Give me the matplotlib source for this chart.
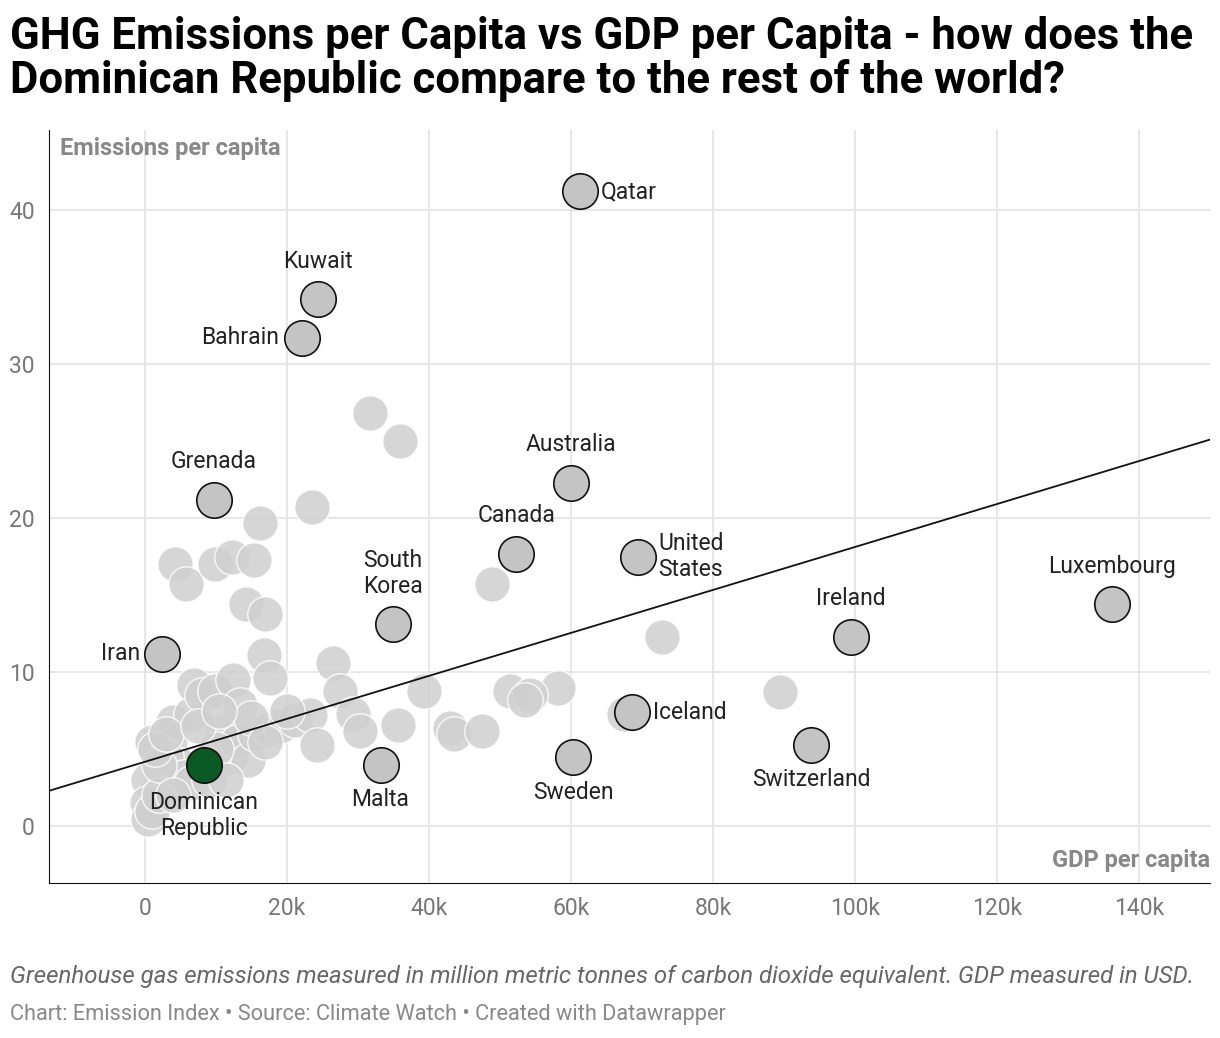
import matplotlib
matplotlib.use("Agg")
import matplotlib.pyplot as plt
import numpy as np

plt.rcParams['font.family'] = ['Roboto', 'DejaVu Sans']

# labelled countries: name, gdp (k USD), emissions per capita, label side
names = ["Qatar", "Kuwait", "Bahrain", "Grenada", "Australia", "Canada", "United\nStates",
         "South\nKorea", "Iran", "Luxembourg", "Ireland", "Iceland", "Switzerland",
         "Sweden", "Malta"]
gdp_lab = [61.3, 24.4, 22.1, 9.7, 60.0, 52.3, 69.4, 34.9, 2.5, 136.2, 99.4, 68.6, 93.8, 60.3, 33.2]
emi_lab = [41.2, 34.2, 31.7, 21.2, 22.3, 17.7, 17.5, 13.1, 11.2, 14.4, 12.3, 7.4, 5.3, 4.5, 4.0]
sides = ["right", "top", "left", "top", "top", "top", "right", "top", "left", "top", "top",
         "right", "bottom", "bottom", "bottom"]

dr_gdp, dr_emi = 8.3, 4.0

# other countries (unlabelled)
gdp_other = [31.7, 35.9, 23.5, 16.3, 4.2, 5.8, 9.9, 12.3, 15.4, 14.2, 16.9, 16.8, 17.6, 48.9,
             72.8, 89.4, 58.2, 51.4, 54.2, 53.5, 39.3, 26.5, 27.5, 29.3, 30.3, 35.6, 43.0, 43.5,
             47.5, 1.0, 0.5, 0.3, 0.4, 1.0, 2.0, 3.5, 5.0, 4.0, 6.5, 7.0, 8.0, 9.9, 11.0, 12.4,
             13.4, 12.0, 13.0, 14.5, 15.5, 17.5, 19.0, 21.1, 23.2, 24.2, 3.0, 5.5, 6.5, 2.0, 10.0,
             9.0, 11.5, 1.5, 3.0, 15.0, 17.0, 20.0, 7.5, 10.5, 4.0, 67.5]
emi_other = [26.8, 25.0, 20.7, 19.7, 17.0, 15.7, 17.0, 17.5, 17.3, 14.4, 13.8, 11.1, 9.6, 15.7,
             12.3, 8.7, 9.0, 8.8, 8.5, 8.2, 8.8, 10.6, 8.8, 7.3, 6.2, 6.6, 6.4, 6.0,
             6.2, 5.5, 3.0, 1.5, 0.5, 1.0, 2.0, 5.5, 4.0, 6.8, 7.3, 9.2, 8.5, 8.8, 6.2, 9.5,
             7.9, 4.5, 5.5, 4.3, 6.0, 6.3, 6.5, 6.9, 7.2, 5.3, 4.5, 3.2, 2.8, 4.0, 5.0,
             3.0, 3.0, 5.0, 6.0, 7.0, 5.5, 7.5, 6.5, 7.5, 2.0, 7.3]

trend_x = [-13.5, 150]
trend_y = [2.3, 25.1]

fig = plt.figure(figsize=(12.2, 10.38), dpi=100)
ax = fig.add_axes([0.040, 0.149, 0.952, 0.726])

ax.scatter(gdp_other, emi_other, s=650, color="#cfcfcf", edgecolor="white", linewidth=1, alpha=0.85, zorder=2)
ax.plot(trend_x, trend_y, color="#111111", lw=1.3, zorder=3)
ax.scatter(gdp_lab, emi_lab, s=650, color="#c4c4c4", edgecolor="#111111", linewidth=1.2, zorder=4)
ax.scatter([dr_gdp], [dr_emi], s=650, color="#0b5a26", edgecolor="#111111", linewidth=1.2, zorder=5)

offs = {"right": (15, 0, "left", "center"), "left": (-16, 0, "right", "center"),
        "top": (0, 19, "center", "bottom"), "bottom": (0, -17, "center", "top")}
for n, x, y, s in zip(names, gdp_lab, emi_lab, sides):
    dx, dy, ha, va = offs[s]
    ax.annotate(n, (x, y), xytext=(dx, dy), textcoords="offset points", ha=ha, va=va,
                fontsize=16.5, color="#222222", linespacing=1.15, zorder=6)
ax.annotate("Dominican\nRepublic", (dr_gdp, dr_emi), xytext=(0, -19), textcoords="offset points",
            ha="center", va="top", fontsize=16.5, color="#222222", linespacing=1.15, zorder=6)

ax.set_xlim(-13.5, 150)
ax.set_ylim(-3.7, 45.2)
ax.set_xticks([0, 20, 40, 60, 80, 100, 120, 140])
ax.set_xticklabels(["0", "20k", "40k", "60k", "80k", "100k", "120k", "140k"])
ax.set_yticks([0, 10, 20, 30, 40])
ax.grid(color="#e3e3e3", lw=1.2, zorder=0)
ax.tick_params(length=0, labelsize=16.5, labelcolor="#777777", pad=10)
for sp in ["top", "right"]:
    ax.spines[sp].set_visible(False)
for sp in ["left", "bottom"]:
    ax.spines[sp].set_color("#111111")
ax.text(0.01, 0.99, "Emissions per capita", transform=ax.transAxes, fontsize=17,
        fontweight="bold", color="#888888", va="top", ha="left")
ax.text(1.0, 0.015, "GDP per capita", transform=ax.transAxes, fontsize=17,
        fontweight="bold", color="#888888", va="bottom", ha="right")

fig.text(0.008, 0.985, "GHG Emissions per Capita vs GDP per Capita - how does the\nDominican Republic compare to the rest of the world?",
         fontsize=31.5, fontweight="bold", va="top", ha="left", linespacing=1.05)
fig.text(0.008, 0.059, "Greenhouse gas emissions measured in million metric tonnes of carbon dioxide equivalent. GDP measured in USD.",
         fontsize=17.3, style="italic", color="#666666", va="center")
fig.text(0.008, 0.023, "Chart: Emission Index • Source: Climate Watch • Created with Datawrapper",
         fontsize=15.7, color="#888888", va="center")

fig.savefig("out.png", dpi=100)
